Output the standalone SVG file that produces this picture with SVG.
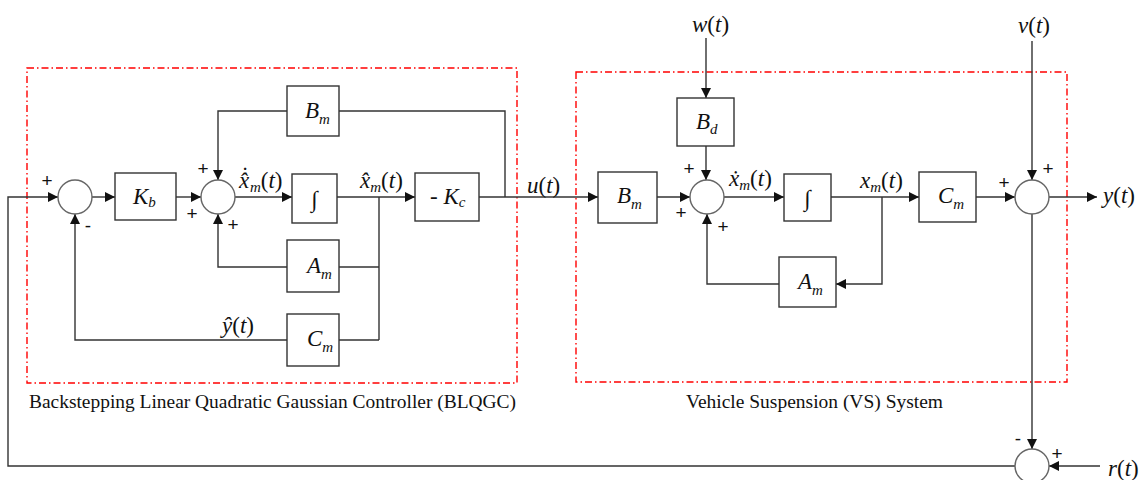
<svg xmlns="http://www.w3.org/2000/svg" width="1142" height="480" viewBox="0 0 1142 480">
<style>
.ln{fill:none;stroke:#333;stroke-width:1.4}
.ar{fill:none;stroke:#333;stroke-width:1.4;marker-end:url(#ah)}
.bx{fill:#fff;stroke:#333;stroke-width:1.4}
.sm{fill:#fff;stroke:#666;stroke-width:1.4}
.red{fill:none;stroke:#f00;stroke-width:1.4;stroke-dasharray:7 3 1.5 3}
.v{font-family:'Liberation Serif','Times New Roman',serif;font-style:italic;font-size:23px;fill:#111}
.u{font-style:normal}
.s{font-size:15px}
.sg{font-family:'Liberation Sans',Arial,sans-serif;font-size:19px;fill:#111;text-anchor:middle;dominant-baseline:central}
.cap{font-family:'Liberation Serif','Times New Roman',serif;font-size:18px;fill:#111}
</style>
<defs>
<marker id="ah" markerUnits="userSpaceOnUse" markerWidth="11" markerHeight="11" refX="10" refY="5" orient="auto">
<path d="M0,0 L10,5 L0,10 z" fill="#111"/>
</marker>
</defs>
<rect width="1142" height="480" fill="#fff"/>

<g id="frames">
<rect class="red" x="27" y="68" width="490" height="315"/>
<rect class="red" x="576" y="72" width="491" height="310"/>
</g>

<g id="connectors">
<path class="ar" d="M1015,466 H8 V197 H58"/>
<path class="ar" d="M92,197 H115"/>
<path class="ar" d="M176,197 H201"/>
<path class="ar" d="M235,197 H292"/>
<path class="ar" d="M337,197 H415"/>
<path class="ar" d="M479,197 H598"/>
<path class="ln" d="M505,197 V111 H339"/>
<path class="ar" d="M287,111 H218 V180"/>
<path class="ln" d="M379,197 V340 M379,267 H339 M379,340 H339"/>
<path class="ar" d="M287,267 H218 V214"/>
<path class="ar" d="M287,340 H75 V214"/>
<path class="ar" d="M657,197 H690"/>
<path class="ar" d="M706,38 V98"/>
<path class="ar" d="M706,146 V180"/>
<path class="ar" d="M724,197 H784"/>
<path class="ar" d="M831,197 H919"/>
<path class="ar" d="M882,197 V284 H836"/>
<path class="ar" d="M779,284 H707 V214"/>
<path class="ar" d="M976,197 H1015"/>
<path class="ar" d="M1049,197 H1097"/>
<path class="ar" d="M1032,41 V180"/>
<path class="ar" d="M1032,214 V449"/>
<path class="ar" d="M1100,466 H1049"/>
</g>

<g id="sum1"><circle class="sm" cx="75" cy="197" r="17"/><text class="sg" x="47" y="180">+</text><text class="sg" x="88" y="225">-</text></g>
<g id="sum2"><circle class="sm" cx="218" cy="197" r="17"/><text class="sg" x="203" y="168">+</text><text class="sg" x="192" y="213">+</text><text class="sg" x="233" y="224">+</text></g>
<g id="sum4"><circle class="sm" cx="707" cy="197" r="17"/><text class="sg" x="689" y="168">+</text><text class="sg" x="681" y="212">+</text><text class="sg" x="723" y="226">+</text></g>
<g id="sum3"><circle class="sm" cx="1032" cy="197" r="17"/><text class="sg" x="1004" y="182">+</text><text class="sg" x="1048" y="168">+</text></g>
<g id="sum5"><circle class="sm" cx="1032" cy="466" r="17"/><text class="sg" x="1018" y="438">-</text><text class="sg" x="1057" y="453">+</text></g>

<g id="Kb"><rect class="bx" x="115" y="173" width="61" height="47"/><text class="v" x="133" y="204">K<tspan class="s" dy="3">b</tspan></text></g>
<g id="Bm1"><rect class="bx" x="287" y="86" width="52" height="50"/><text class="v" x="305" y="118">B<tspan class="s" dy="6">m</tspan></text></g>
<g id="Int1"><rect class="bx" x="292" y="174" width="45" height="49"/><text class="v u" x="314.5" y="207" text-anchor="middle" font-size="26">∫</text></g>
<g id="Kc"><rect class="bx" x="415" y="173" width="64" height="48"/><text class="v" x="430" y="204"><tspan class="u">- </tspan>K<tspan class="s" dy="3">c</tspan></text></g>
<g id="Am1"><rect class="bx" x="287" y="240" width="52" height="52"/><text class="v" x="307" y="273">A<tspan class="s" dy="6">m</tspan></text></g>
<g id="Cm1"><rect class="bx" x="287" y="314" width="52" height="52"/><text class="v" x="307" y="346">C<tspan class="s" dy="6">m</tspan></text></g>
<g id="Bd"><rect class="bx" x="677" y="98" width="57" height="48"/><text class="v" x="696" y="129">B<tspan class="s" dy="5">d</tspan></text></g>
<g id="Bm2"><rect class="bx" x="598" y="172" width="59" height="51"/><text class="v" x="617" y="203">B<tspan class="s" dy="6">m</tspan></text></g>
<g id="Int2"><rect class="bx" x="784" y="174" width="47" height="47"/><text class="v u" x="807.5" y="206" text-anchor="middle" font-size="26">∫</text></g>
<g id="Cm2"><rect class="bx" x="919" y="172" width="57" height="50"/><text class="v" x="938" y="203">C<tspan class="s" dy="6">m</tspan></text></g>
<g id="Am2"><rect class="bx" x="779" y="257" width="57" height="50"/><text class="v" x="798" y="289">A<tspan class="s" dy="6">m</tspan></text></g>

<g id="labels">
<text class="v" x="239" y="188">x̂<tspan class="u" dx="-8" dy="-5">˙</tspan><tspan class="s" dx="1" dy="9">m</tspan><tspan class="u" dy="-4">(</tspan>t<tspan class="u">)</tspan></text>
<text class="v" x="360" y="188">x̂<tspan class="s" dy="4">m</tspan><tspan class="u" dy="-4">(</tspan>t<tspan class="u">)</tspan></text>
<text class="v" x="222" y="333">ŷ<tspan class="u">(</tspan>t<tspan class="u">)</tspan></text>
<text class="v" x="527" y="193">u<tspan class="u">(</tspan>t<tspan class="u">)</tspan></text>
<text class="v" x="729" y="186">ẋ<tspan class="s" dy="4">m</tspan><tspan class="u" dy="-4">(</tspan>t<tspan class="u">)</tspan></text>
<text class="v" x="860" y="188">x<tspan class="s" dy="4">m</tspan><tspan class="u" dy="-4">(</tspan>t<tspan class="u">)</tspan></text>
<text class="v" x="692" y="32">w<tspan class="u">(</tspan>t<tspan class="u">)</tspan></text>
<text class="v" x="1018" y="33">v<tspan class="u">(</tspan>t<tspan class="u">)</tspan></text>
<text class="v" x="1103" y="203">y<tspan class="u">(</tspan>t<tspan class="u">)</tspan></text>
<text class="v" x="1108" y="476">r<tspan class="u">(</tspan>t<tspan class="u">)</tspan></text>
<text class="cap" x="29" y="408" textLength="487" lengthAdjust="spacingAndGlyphs">Backstepping Linear Quadratic Gaussian Controller (BLQGC)</text>
<text class="cap" x="686" y="408" textLength="257" lengthAdjust="spacingAndGlyphs">Vehicle Suspension (VS) System</text>
</g>
</svg>
